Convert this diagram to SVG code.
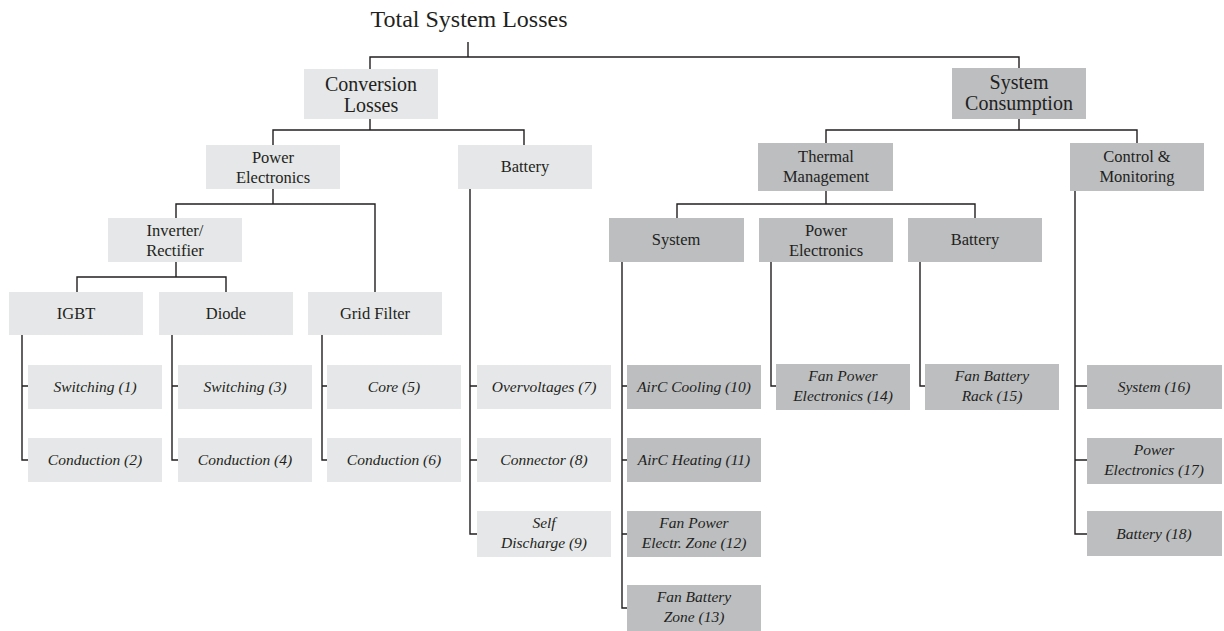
<svg xmlns="http://www.w3.org/2000/svg" width="1224" height="631" viewBox="0 0 1224 631">
<style>
.l{fill:#e6e7e8}
.d{fill:#bcbec0}
text{font-family:"Liberation Serif","Times New Roman",serif;fill:#231f20;text-anchor:middle}
.t0{font-size:24px}
.t1{font-size:20px}
.t2{font-size:16.5px}
.ti{font-size:15.5px;font-style:italic}
.c{fill:none;stroke:#231f20;stroke-width:1.4}
</style>
<rect width="1224" height="631" fill="#ffffff"/>
<g id="connectors" class="c">
<path d="M468,42V57M370,69V57H1019V68"/>
<path d="M370,119V130M273,145V130H524V145"/>
<path d="M1019,119V130M826,143V130H1137V143"/>
<path d="M273,189V204M176,218V204H375V292"/>
<path d="M176,262V277M77,292V277H226V292"/>
<path d="M22,335V460H28M22,386H28"/>
<path d="M172,335V460H178M172,386H178"/>
<path d="M322,335V460H327M322,386H327"/>
<path d="M470,189V534H477M470,386H477M470,460H477"/>
<path d="M826,191V204M677,218V204H975V218"/>
<path d="M622,262V608H627M622,386H627M622,460H627M622,534H627"/>
<path d="M771,262V386H776"/>
<path d="M920,262V386H925"/>
<path d="M1075,191V534H1087M1075,386H1087M1075,460H1087"/>
</g>
<g id="n-total"><text class="t0" x="469" y="27">Total System Losses</text></g>
<g id="n-conv"><rect class="l" x="304" y="69" width="134" height="50"/><text class="t1" x="371" y="91">Conversion</text><text class="t1" x="371" y="112">Losses</text></g>
<g id="n-sys"><rect class="d" x="952" y="68" width="134" height="51"/><text class="t1" x="1019" y="89">System</text><text class="t1" x="1019" y="110">Consumption</text></g>
<g id="n-pe"><rect class="l" x="206" y="145" width="134" height="44"/><text class="t2" x="273" y="163">Power</text><text class="t2" x="273" y="183">Electronics</text></g>
<g id="n-bat"><rect class="l" x="458" y="145" width="134" height="44"/><text class="t2" x="525" y="172">Battery</text></g>
<g id="n-thermal"><rect class="d" x="758" y="143" width="135" height="48"/><text class="t2" x="826" y="162">Thermal</text><text class="t2" x="826" y="182">Management</text></g>
<g id="n-ctrl"><rect class="d" x="1070" y="143" width="134" height="48"/><text class="t2" x="1137" y="162">Control &amp;</text><text class="t2" x="1137" y="182">Monitoring</text></g>
<g id="n-inv"><rect class="l" x="108" y="218" width="134" height="44"/><text class="t2" x="175" y="236">Inverter/</text><text class="t2" x="175" y="256">Rectifier</text></g>
<g id="n-igbt"><rect class="l" x="9" y="292" width="134" height="43"/><text class="t2" x="76" y="319">IGBT</text></g>
<g id="n-diode"><rect class="l" x="159" y="292" width="134" height="43"/><text class="t2" x="226" y="319">Diode</text></g>
<g id="n-grid"><rect class="l" x="308" y="292" width="134" height="43"/><text class="t2" x="375" y="319">Grid Filter</text></g>
<g id="n-tsys"><rect class="d" x="609" y="218" width="135" height="44"/><text class="t2" x="676" y="245">System</text></g>
<g id="n-tpe"><rect class="d" x="759" y="218" width="134" height="44"/><text class="t2" x="826" y="236">Power</text><text class="t2" x="826" y="256">Electronics</text></g>
<g id="n-tbat"><rect class="d" x="908" y="218" width="134" height="44"/><text class="t2" x="975" y="245">Battery</text></g>
<g id="n-1"><rect class="l" x="28" y="365" width="134" height="44"/><text class="ti" x="95" y="392">Switching (1)</text></g>
<g id="n-2"><rect class="l" x="28" y="438" width="134" height="44"/><text class="ti" x="95" y="465">Conduction (2)</text></g>
<g id="n-3"><rect class="l" x="178" y="365" width="134" height="44"/><text class="ti" x="245" y="392">Switching (3)</text></g>
<g id="n-4"><rect class="l" x="178" y="438" width="134" height="44"/><text class="ti" x="245" y="465">Conduction (4)</text></g>
<g id="n-5"><rect class="l" x="327" y="365" width="134" height="44"/><text class="ti" x="394" y="392">Core (5)</text></g>
<g id="n-6"><rect class="l" x="327" y="438" width="134" height="44"/><text class="ti" x="394" y="465">Conduction (6)</text></g>
<g id="n-7"><rect class="l" x="477" y="365" width="134" height="44"/><text class="ti" x="544" y="392">Overvoltages (7)</text></g>
<g id="n-8"><rect class="l" x="477" y="438" width="134" height="44"/><text class="ti" x="544" y="465">Connector (8)</text></g>
<g id="n-9"><rect class="l" x="477" y="511" width="134" height="46"/><text class="ti" x="544" y="528">Self</text><text class="ti" x="544" y="548">Discharge (9)</text></g>
<g id="n-10"><rect class="d" x="627" y="365" width="134" height="44"/><text class="ti" x="694" y="392">AirC Cooling (10)</text></g>
<g id="n-11"><rect class="d" x="627" y="438" width="134" height="44"/><text class="ti" x="694" y="465">AirC Heating (11)</text></g>
<g id="n-12"><rect class="d" x="627" y="511" width="134" height="46"/><text class="ti" x="694" y="528">Fan Power</text><text class="ti" x="694" y="548">Electr. Zone (12)</text></g>
<g id="n-13"><rect class="d" x="627" y="585" width="134" height="46"/><text class="ti" x="694" y="602">Fan Battery</text><text class="ti" x="694" y="622">Zone (13)</text></g>
<g id="n-14"><rect class="d" x="776" y="364" width="134" height="46"/><text class="ti" x="843" y="381">Fan Power</text><text class="ti" x="843" y="401">Electronics (14)</text></g>
<g id="n-15"><rect class="d" x="925" y="364" width="134" height="46"/><text class="ti" x="992" y="381">Fan Battery</text><text class="ti" x="992" y="401">Rack (15)</text></g>
<g id="n-16"><rect class="d" x="1087" y="365" width="135" height="44"/><text class="ti" x="1154" y="392">System (16)</text></g>
<g id="n-17"><rect class="d" x="1087" y="438" width="135" height="46"/><text class="ti" x="1154" y="455">Power</text><text class="ti" x="1154" y="475">Electronics (17)</text></g>
<g id="n-18"><rect class="d" x="1087" y="511" width="135" height="45"/><text class="ti" x="1154" y="539">Battery (18)</text></g>
</svg>
